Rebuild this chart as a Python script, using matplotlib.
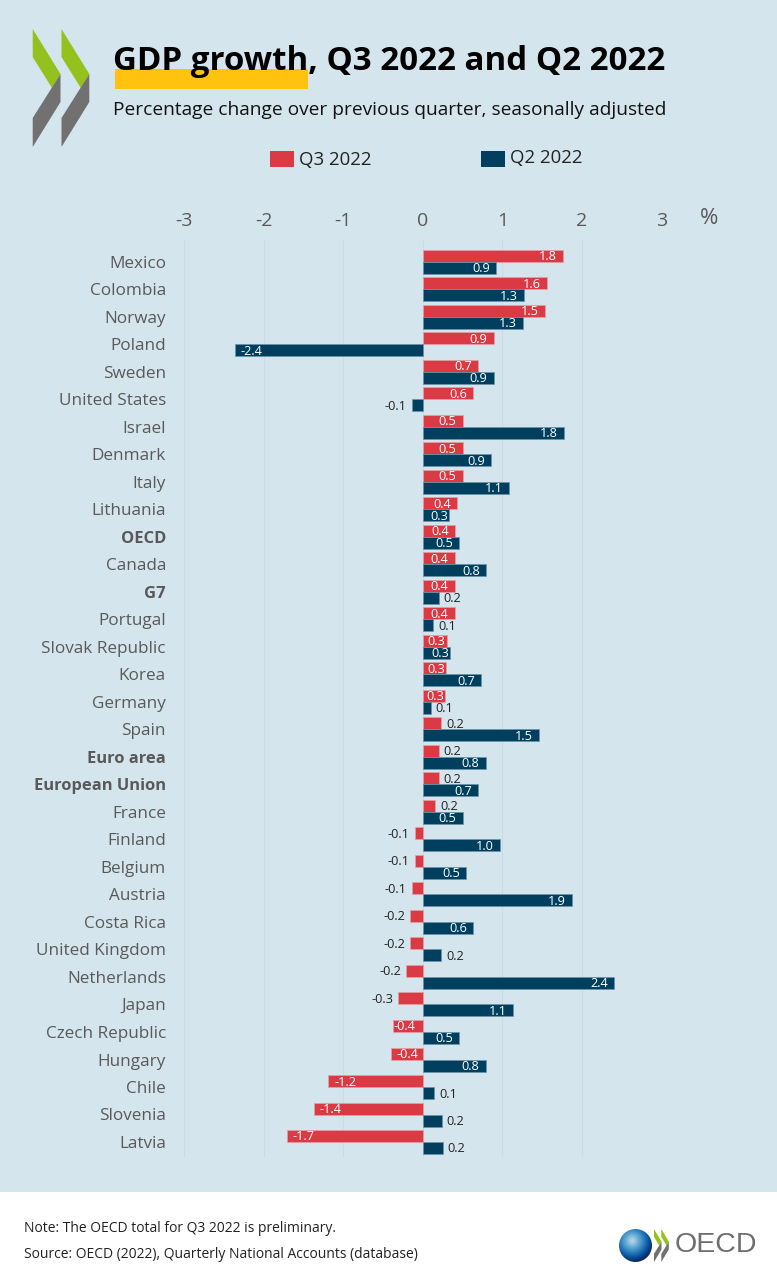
import numpy as np
import matplotlib
matplotlib.use("Agg")
import matplotlib.pyplot as plt
from matplotlib.patches import Rectangle, Polygon, Circle

# values
countries = ["Mexico", "Colombia", "Norway", "Poland", "Sweden", "United States", "Israel",
             "Denmark", "Italy", "Lithuania", "OECD", "Canada", "G7", "Portugal",
             "Slovak Republic", "Korea", "Germany", "Spain", "Euro area", "European Union",
             "France", "Finland", "Belgium", "Austria", "Costa Rica", "United Kingdom",
             "Netherlands", "Japan", "Czech Republic", "Hungary", "Chile", "Slovenia", "Latvia"]
q3_2022 = [1.76, 1.56, 1.53, 0.89, 0.69, 0.63, 0.50, 0.50, 0.50, 0.43, 0.41, 0.40, 0.40, 0.40,
           0.30, 0.29, 0.28, 0.23, 0.20, 0.20, 0.16, -0.10, -0.10, -0.14, -0.16, -0.16,
           -0.21, -0.31, -0.38, -0.40, -1.19, -1.37, -1.71]
q2_2022 = [0.92, 1.27, 1.26, -2.36, 0.89, -0.14, 1.77, 0.86, 1.08, 0.33, 0.46, 0.80, 0.20, 0.13,
           0.34, 0.73, 0.10, 1.46, 0.79, 0.69, 0.50, 0.97, 0.54, 1.87, 0.63, 0.23,
           2.40, 1.13, 0.46, 0.79, 0.14, 0.24, 0.25]
bold_rows = ["OECD", "G7", "Euro area", "European Union"]
x_ticks = [-3, -2, -1, 0, 1, 2, 3]
x_tick_labels = ["-3", "-2", "-1", "0", "1", "2", "3"]

RED = "#D93A44"
NAVY = "#003F5E"
PANEL = "#D5E5EE"
GREY = "#595959"
W, H = 777, 1286
FONT = "Open Sans"

plt.rcParams["font.family"] = [FONT, "DejaVu Sans"]

fig = plt.figure(figsize=(W / 100, H / 100), dpi=100, facecolor="white")

# page background, title block and logos are drawn in pixel coordinates
bg = fig.add_axes([0, 0, 1, 1], zorder=0)
bg.set_xlim(0, W)
bg.set_ylim(H, 0)
bg.axis("off")
bg.add_patch(Rectangle((0, 0), W, 1192, fc=PANEL, ec="none"))


def chevrons(x0, y0, sx, sy, gap):
    for dx in (0, gap):
        green = [(0, 0), (27.8, 45), (19.3, 59), (0, 28)]
        grey = [(27.8, 45), (27.8, 73), (0, 118), (0, 89)]
        bg.add_patch(Polygon([(x0 + (x + dx) * sx, y0 + y * sy) for x, y in green], fc="#95C11F", ec="none"))
        bg.add_patch(Polygon([(x0 + (x + dx) * sx, y0 + y * sy) for x, y in grey], fc="#717171", ec="none"))


chevrons(32.7, 29, 1, 1, 28.8)

bg.add_patch(Rectangle((115, 69), 193, 20, fc="#FFC20E", ec="none"))
bg.text(113, 62, "GDP growth, Q3 2022 and Q2 2022", fontsize=23.9, fontweight="bold",
        color="black", va="center", ha="left")
bg.text(113, 110, "Percentage change over previous quarter, seasonally adjusted",
        fontsize=13.77, color="#111111", va="center", ha="left")

# legend
bg.add_patch(Rectangle((270, 151), 24, 16, fc=RED, ec="none"))
bg.text(299, 160, "Q3 2022", fontsize=13.4, color="#222222", va="center", ha="left")
bg.add_patch(Rectangle((481, 151), 24, 16, fc=NAVY, ec="none"))
bg.text(510, 158, "Q2 2022", fontsize=13.4, color="#222222", va="center", ha="left")

bg.text(709, 218, "%", fontsize=16, color=GREY, va="center", ha="center")

# footer
bg.text(24, 1228, "Note: The OECD total for Q3 2022 is preliminary.", fontsize=10, color="#222222", va="center")
bg.text(24, 1254, "Source: OECD (2022), Quarterly National Accounts (database)", fontsize=10, color="#222222", va="center")

# OECD logo, bottom right
globe = np.hypot(*np.meshgrid(np.linspace(-1, 1, 64) + 0.2, np.linspace(-1, 1, 64) + 0.3))
im = bg.imshow(globe, extent=(619, 652, 1262, 1229), cmap="Blues", vmin=-0.5, vmax=1.25,
               aspect="auto", zorder=2)
im.set_clip_path(Circle((635.5, 1245.5), 16.5, transform=bg.transData))
bg.set_xlim(0, W)
bg.set_ylim(H, 0)
chevrons(654, 1229, 0.27, 0.28, 27)
bg.text(675, 1245, "OECD", fontsize=20.5, color="#6D6E70", va="center", ha="left", family=["Liberation Sans", "DejaVu Sans"])

# chart area: x -3..3 spans px 184..661.5, rows are 27.5 px apart
top_px, bottom_px = 240, 1157
row0_px, row_px = 262, 27.5
ax = fig.add_axes([184 / W, 1 - bottom_px / H, (661.5 - 184) / W, (bottom_px - top_px) / H], zorder=1)
ax.patch.set_visible(False)
ax.set_xlim(-3, 3)
ax.set_ylim((bottom_px - row0_px) / row_px, (top_px - row0_px) / row_px)

rows = np.arange(len(countries))
bar_h = 12 / row_px
ax.barh(rows - bar_h / 2, q3_2022, height=bar_h, color=RED, edgecolor="#E7A0A6", linewidth=0.5, zorder=3)
ax.barh(rows + bar_h / 2, q2_2022, height=bar_h, color=NAVY, edgecolor="#6E93A8", linewidth=0.5, zorder=3)

ax.set_xticks(x_ticks)
ax.set_xticklabels(x_tick_labels, fontsize=14, color=GREY)
ax.xaxis.tick_top()
ax.tick_params(axis="x", length=0, pad=7)
ax.set_yticks(rows)
ax.set_yticklabels(countries, fontsize=12.3, color=GREY)
ax.tick_params(axis="y", length=0, pad=13)
for lab in ax.get_yticklabels():
    if lab.get_text() in bold_rows:
        lab.set_fontweight("bold")
        lab.set_fontsize(11.85)
ax.grid(axis="x", color="#CBDAE3", linewidth=0.8, zorder=0)
ax.grid(axis="y", visible=False)
for s in ax.spines.values():
    s.set_visible(False)


def bar_label(v, y):
    # long bars carry a white label inside, short ones a dark label next to them
    inside = v >= 0.27 or v <= -0.35
    inset = 6 if abs(v) >= 0.4 else 1
    if inside:
        dx = -inset if v > 0 else inset
        ha = "right" if v > 0 else "left"
        col = "white"
    else:
        dx = 5 if v > 0 else -5
        ha = "left" if v > 0 else "right"
        col = "#222222"
    ax.annotate(f"{v:.1f}", (v, y), xytext=(dx * 0.72, -1 * 0.72), textcoords="offset points",
                ha=ha, va="center", fontsize=9.2, color=col, zorder=4)


for i in rows:
    bar_label(q3_2022[i], i - bar_h / 2)
    bar_label(q2_2022[i], i + bar_h / 2)

fig.savefig("out.png", dpi=100, facecolor="white")
